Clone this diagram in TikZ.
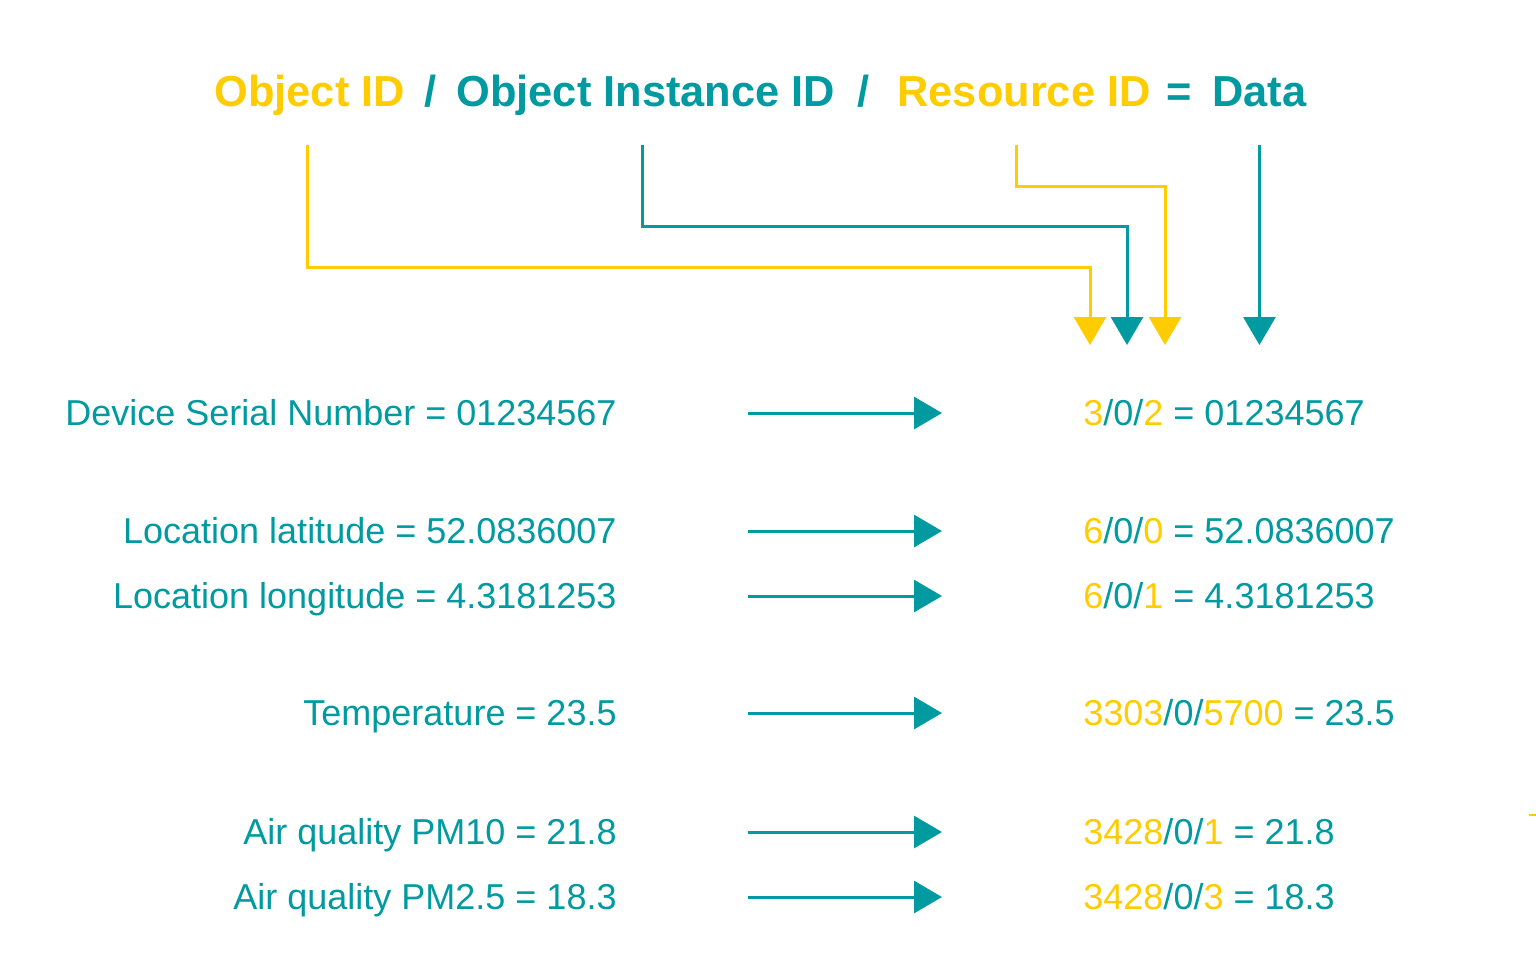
\documentclass[tikz,border=0pt]{standalone}
\usepackage{fontspec}
\setmainfont{Liberation Sans}
\usetikzlibrary{arrows.meta}
\definecolor{idyellow}{RGB}{255,204,0}
\definecolor{idteal}{RGB}{0,154,160}
\newcommand{\yid}[1]{\textcolor{idyellow}{#1}}

\begin{document}
\begin{tikzpicture}[x=0.5pt,y=-0.5pt,
        head/.style={inner sep=0pt,anchor=base west,font=\fontsize{21.7}{26}\selectfont\bfseries},
        lbl/.style={inner sep=0pt,text=idteal,font=\fontsize{18}{22}\selectfont},
        link/.style={line width=1.5pt,-{Triangle[width=16pt,length=14pt]}}]
                \path[use as bounding box] (0,0) rectangle (1536,965);
                \node[head,text=idyellow] (objid) at (214,106) {Object ID};
                \node[head,text=idteal] (sla) at (424,106) {/};
                \node[head,text=idteal] (instid) at (456,106) {Object Instance ID};
                \node[head,text=idteal] (slb) at (857,106) {/};
                \node[head,text=idyellow] (resid) at (897,106) {Resource ID};
                \node[head,text=idteal] (eq) at (1166,106) {=};
                \node[head,text=idteal] (data) at (1212,106) {Data};
                \coordinate (ta) at (1090,345);
                \coordinate (tb) at (1127,345);
                \coordinate (tc) at (1165,345);
                \coordinate (td) at (data.south |- 0,345);
                \draw[link,idyellow] ([xshift=-1pt]objid.south |- 0,145) |- (ta |- 0,267) -- (ta);
                \draw[link,idteal] ([xshift=-1.5pt]instid.south |- 0,145) |- (tb |- 0,226) -- (tb);
                \draw[link,idyellow] ([xshift=-4pt]resid.south |- 0,145) |- (tc |- 0,186) -- (tc);
                \draw[link,idteal] (data.south |- 0,145) -- (td);

                \node[lbl,anchor=base east] (l1) at (617,425) {Device Serial Number = 01234567};
                \node[lbl,anchor=base east] (l2) at (617,543) {Location latitude = 52.0836007};
                \node[lbl,anchor=base east] (l3) at (617,608) {Location longitude = 4.3181253};
                \node[lbl,anchor=base east] (l4) at (617,725) {Temperature = 23.5};
                \node[lbl,anchor=base east] (l5) at (617,844) {Air quality PM10 = 21.8};
                \node[lbl,anchor=base east] (l6) at (617,909) {Air quality PM2.5 = 18.3};
                \node[lbl,anchor=base west] (r1) at (1083,425) {\yid{3}/0/\yid{2} = 01234567};
                \node[lbl,anchor=base west] (r2) at (1083,543) {\yid{6}/0/\yid{0} = 52.0836007};
                \node[lbl,anchor=base west] (r3) at (1083,608) {\yid{6}/0/\yid{1} = 4.3181253};
                \node[lbl,anchor=base west] (r4) at (1083,725) {\yid{3303}/0/\yid{5700} = 23.5};
                \node[lbl,anchor=base west] (r5) at (1083,844) {\yid{3428}/0/\yid{1} = 21.8};
                \node[lbl,anchor=base west] (r6) at (1083,909) {\yid{3428}/0/\yid{3} = 18.3};
                \foreach \i in {1,...,6} {
                    \draw[link,idteal] ([xshift=65.5pt,yshift=6pt]l\i.base east) -- ([xshift=-70.5pt,yshift=6pt]r\i.base west);
                }
                \draw[idyellow,line width=1pt] (1529,815) -- (1536,815);

            \end{tikzpicture}
\end{document}
